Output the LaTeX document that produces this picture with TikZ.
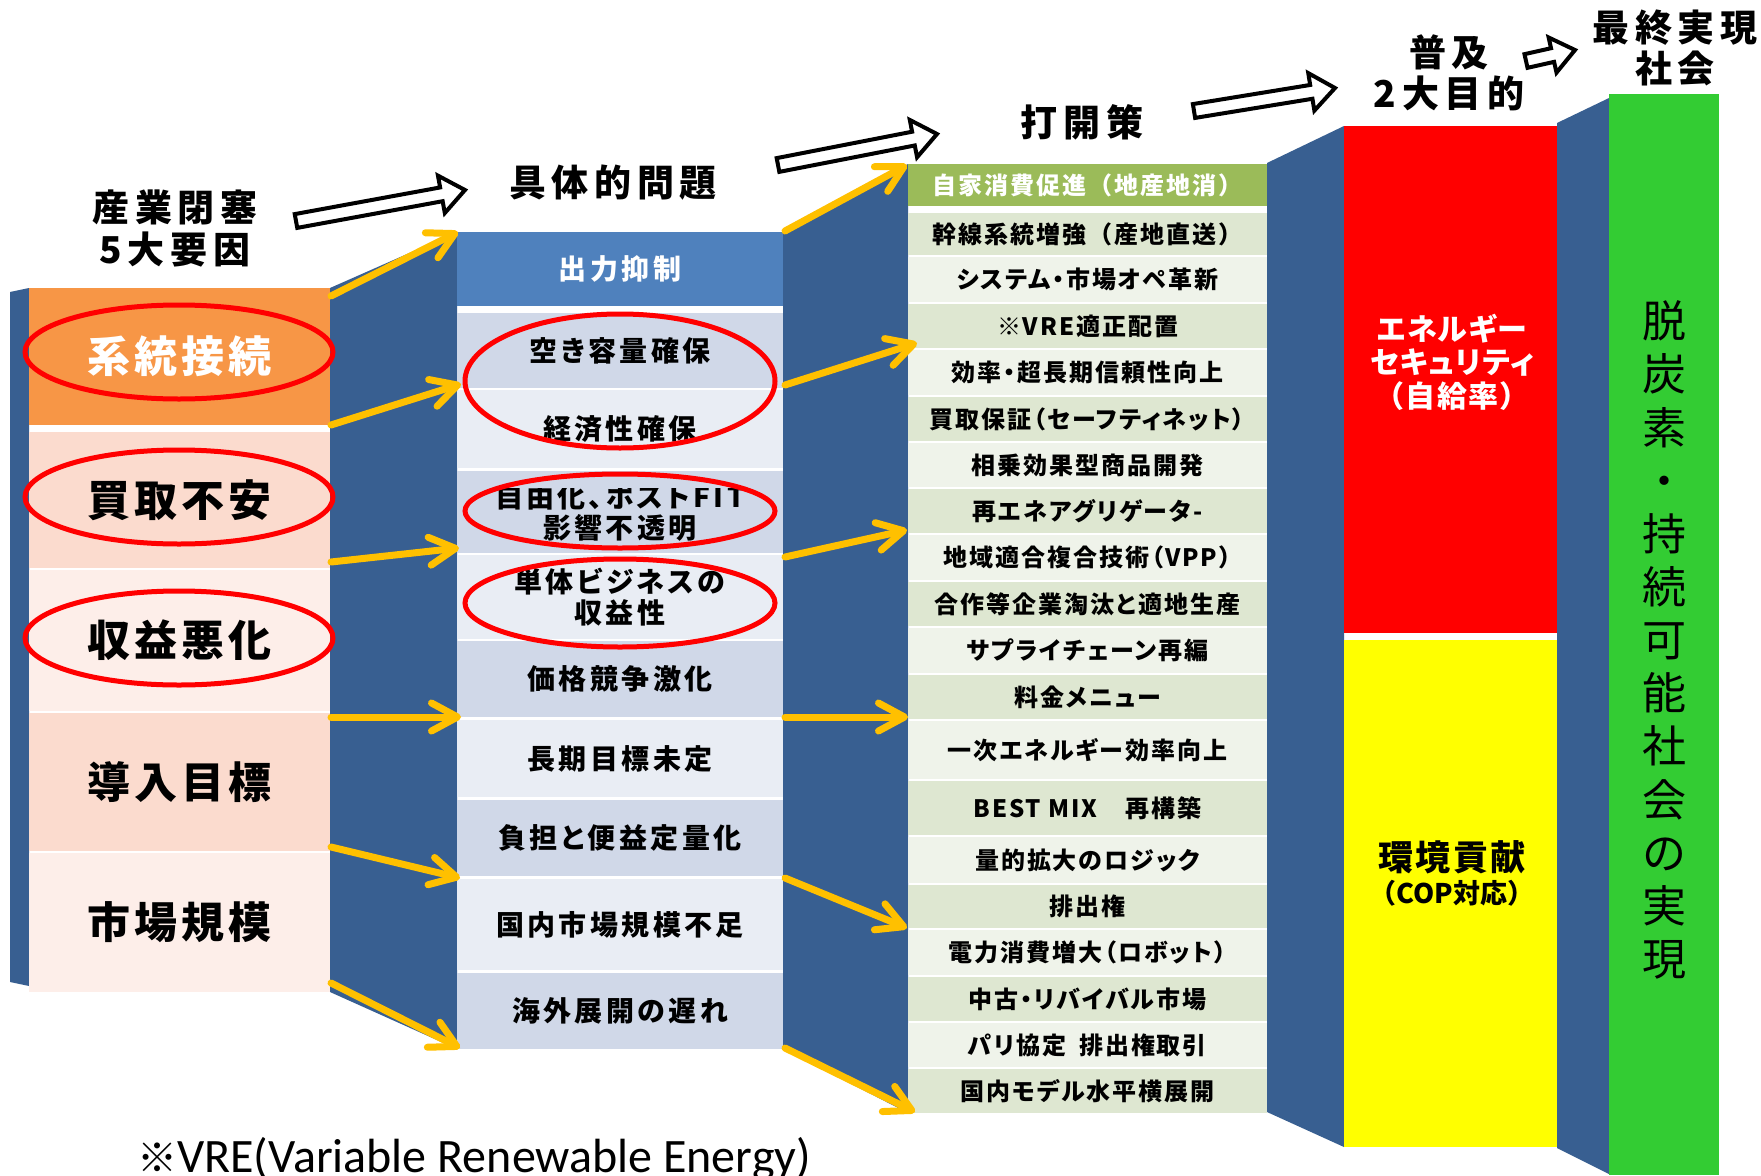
\documentclass[tikz,border=0pt]{standalone}
\usepackage{fontspec}
\setmainfont{Noto Sans CJK JP}[RawFeature=+palt]
\newfontfamily\carl{Carlito}
\usetikzlibrary{arrows.meta,shapes.geometric}
\definecolor{bandc}{HTML}{385F91}
\definecolor{orng}{HTML}{F79646}
\definecolor{salA}{HTML}{FBDBCE}
\definecolor{salB}{HTML}{FDEEE9}
\definecolor{hdrB}{HTML}{4F81BD}
\definecolor{bluA}{HTML}{D0D8E8}
\definecolor{bluB}{HTML}{E9EDF4}
\definecolor{hdrG}{HTML}{9BBB59}
\definecolor{grnA}{HTML}{DEE7D1}
\definecolor{grnB}{HTML}{EFF3EA}
\definecolor{arrY}{HTML}{FFC000}
\definecolor{goalc}{HTML}{33CC33}
\definecolor{goalr}{HTML}{FF0000}
\definecolor{goaly}{HTML}{FFFF00}
\newcommand\fTitle{\fontsize{37pt}{42pt}\selectfont\bfseries\addfontfeature{LetterSpace=15}}
\newcommand\fColA{\fontsize{43pt}{48pt}\selectfont\bfseries\addfontfeature{LetterSpace=10}}
\newcommand\fColB{\fontsize{28pt}{31pt}\selectfont\bfseries\addfontfeature{LetterSpace=12}}
\newcommand\fColC{\fontsize{24pt}{26pt}\selectfont\bfseries\addfontfeature{LetterSpace=8}}
\newcommand\fRed{\fontsize{30pt}{33.5pt}\selectfont\bfseries\addfontfeature{LetterSpace=4}}
\newcommand\fYelA{\fontsize{35pt}{38pt}\selectfont\bfseries\addfontfeature{LetterSpace=6}}
\newcommand\fYelB{\fontsize{27pt}{30pt}\selectfont\bfseries}
\newcommand\fGoal{\fontsize{44pt}{53.15pt}\selectfont\mdseries}
\newcommand\nopalt{\addfontfeature{RawFeature=-palt}}
\tikzset{
 cellbox/.style={rectangle,draw=none,inner sep=0pt,outer sep=0pt,align=center},
 ring/.style={ellipse,draw=red,line width=5pt,fill=none,inner sep=0pt},
 yarr/.style={draw=arrY,line width=7pt,line cap=round,line join=round,-{Straight Barb[length=26pt,width=28pt,round]}},
 hollow/.style={draw=black,fill=white,line width=4pt,line join=miter},
 ttl/.style={font=\fTitle,text=black,inner sep=0pt},
 c1/.style={font=\fColA,text=black},
 c1w/.style={font=\fColA,text=white},
 c2/.style={font=\fColB,text=black,align=center},
 c2w/.style={font=\fColB,text=white},
 c3/.style={font=\fColC,text=black},
 c3w/.style={font=\fColC,text=white},
 plain/.style={},
}
\newcommand\cell[8]{\node[cellbox,fill=#6,#7,minimum width={(#4-#2)*1pt},minimum height={(#5-#3)*1pt}] (#1) at ({(#2+#4)/2},{(#3+#5)/2}) {#8};}
\newcommand\hollowarr[8]{%
\pgfmathsetmacro\hAng{atan2(-(#5-#3),(#4-#2))}%
\pgfmathsetmacro\hLen{veclen((#4-#2),(#5-#3))}%
\pgfmathsetmacro\hBase{\hLen-#8}%
\begin{scope}[shift={(#2,#3)},rotate=\hAng]
\draw[hollow] (0,-#6) -- (\hBase,-#6) -- (\hBase,-#7) -- (\hLen,0) -- (\hBase,#7) -- (\hBase,#6) -- (0,#6) -- cycle;
\coordinate (#1) at (\hLen,0);
\end{scope}}
\begin{document}
\begin{tikzpicture}[x=1pt,y=-1pt]
\fill[white] (0,0) rectangle (1761,1175);
\useasboundingbox (0,0) rectangle (1761,1175);
% connecting bands
\fill[bandc] (10,292) -- (29,288) -- (29,986) -- (10,982) -- cycle;
\fill[bandc] (330,288) -- (457,232) -- (457,1049) -- (330,992) -- cycle;
\fill[bandc] (783,232) -- (908,164) -- (908,1113) -- (783,1049) -- cycle;
\fill[bandc] (1267,163) -- (1344,126) -- (1344,1147) -- (1267,1112) -- cycle;
\fill[bandc] (1557,123) -- (1609,98) -- (1609,1174) -- (1557,1148) -- cycle;
% column 1
\cell{ra}{29}{288}{330}{425}{orng}{c1w}{系統接続}
\cell{rb}{29}{432}{330}{568}{salA}{c1}{買取不安}
\cell{rc}{29}{570}{330}{711}{salB}{c1}{収益悪化}
\cell{rd}{29}{713}{330}{851}{salA}{c1}{導入目標}
\cell{re}{29}{853}{330}{992}{salB}{c1}{市場規模}
% column 2
\cell{m0}{457}{232}{783}{306}{hdrB}{c2w}{出力抑制}
\cell{m1}{457}{313}{783}{388}{bluA}{c2}{空き容量確保}
\cell{m2}{457}{390}{783}{468}{bluB}{c2}{経済性確保}
\cell{m3}{457}{471}{783}{553}{bluA}{c2}{}
\begin{scope}
\clip (457,488) rectangle (783,553);
\node[c2] (m3t) at (620,512) {自由化、ポストFIT\\影響不透明};
\end{scope}
\cell{m4}{457}{555}{783}{639}{bluB}{c2}{単体ビジネスの\\収益性}
\cell{m5}{457}{641}{783}{717}{bluA}{c2}{価格競争激化}
\cell{m6}{457}{720}{783}{797}{bluB}{c2}{長期目標未定}
\cell{m7}{457}{800}{783}{876}{bluA}{c2}{負担と便益定量化}
\cell{m8}{457}{879}{783}{970}{bluB}{c2}{国内市場規模不足}
\cell{m9}{457}{973}{783}{1049}{bluA}{c2}{海外展開の遅れ}
% column 3
\cell{s01}{908}{164}{1267}{206}{hdrG}{c3w}{\nopalt 自家消費促進（地産地消）}
\cell{s02}{908}{213}{1267}{255}{grnA}{c3}{\nopalt 幹線系統増強（産地直送）}
\cell{s03}{908}{257}{1267}{302}{grnB}{c3}{システム・市場オペ革新}
\cell{s04}{908}{304}{1267}{348}{grnA}{c3}{※VRE適正配置}
\cell{s05}{908}{350}{1267}{395}{grnB}{c3}{効率・超長期信頼性向上}
\cell{s06}{908}{397}{1267}{441}{grnA}{c3}{買取保証（セーフティネット）}
\cell{s07}{908}{443}{1267}{487}{grnB}{c3}{相乗効果型商品開発}
\cell{s08}{908}{489}{1267}{533}{grnA}{c3}{再エネアグリゲータ-}
\cell{s09}{908}{535}{1267}{580}{grnB}{c3}{地域適合複合技術（VPP）}
\cell{s10}{908}{582}{1267}{626}{grnA}{c3}{合作等企業淘汰と適地生産}
\cell{s11}{908}{628}{1267}{673}{grnB}{c3}{サプライチェーン再編}
\cell{s12}{908}{675}{1267}{719}{grnA}{c3}{料金メニュー}
\cell{s13}{908}{721}{1267}{779}{grnB}{c3}{一次エネルギー効率向上}
\cell{s14}{908}{781}{1267}{835}{grnA}{c3}{BEST MIX　再構築}
\cell{s15}{908}{837}{1267}{883}{grnB}{c3}{量的拡大のロジック}
\cell{s16}{908}{885}{1267}{928}{grnA}{c3}{排出権}
\cell{s17}{908}{930}{1267}{975}{grnB}{c3}{電力消費増大（ロボット）}
\cell{s18}{908}{977}{1267}{1021}{grnA}{c3}{中古・リバイバル市場}
\cell{s19}{908}{1023}{1267}{1067}{grnB}{c3}{パリ協定\hspace{13pt}排出権取引}
\cell{s20}{908}{1069}{1267}{1113}{grnA}{c3}{国内モデル水平横展開}
% goals
\cell{gr}{1344}{126}{1557}{633}{goalr}{plain}{}
\cell{gy}{1344}{640}{1557}{1147}{goaly}{plain}{}
\cell{gg}{1609}{94}{1719}{1175}{goalc}{plain}{}
\node[font=\fRed,text=white,align=center,inner sep=0pt] (grt) at (1452,362) {エネルギー\\セキュリティ\\{\nopalt （自給率）}};
\node[font=\fYelA,text=black,inner sep=0pt] (gyt1) at (1452,857) {環境貢献};
\node[font=\fYelB,text=black,inner sep=0pt] (gyt2) at (1452,893) {\nopalt （COP対応）};
\node[font=\fGoal,text=black,align=center,inner sep=0pt] (ggt) at (1664,640) {脱\\炭\\素\\・\\持\\続\\可\\能\\社\\会\\の\\実\\現};
% titles
\node[ttl] (t1a) at (175,207) {産業閉塞};
\node[ttl] (t1b) at (175,250) {5大要因};
\node[ttl] (t2) at (613,183) {具体的問題};
\node[ttl] (t3) at (1082,122) {打開策};
\node[ttl] (t4a) at (1449,52) {普及};
\node[ttl] (t4b) at (1449,93) {2大目的};
\node[ttl] (t5a) at (1675,28) {最終実現};
\node[ttl] (t5b) at (1675,68) {社会};
% footnote
\node[anchor=base west,inner sep=0pt,text=black] (fn) at (137,1172) {{\fontsize{40pt}{48pt}\selectfont ※}{\carl\fontsize{48pt}{58pt}\selectfont VRE(Variable Renewable Energy)}};
% ellipses
\node[ring,minimum width=308pt,minimum height=94pt] (e1) at (179,352) {};
\node[ring,minimum width=308pt,minimum height=94pt] (e2) at (179,497) {};
\node[ring,minimum width=308pt,minimum height=94pt] (e3) at (179,638) {};
\node[ring,minimum width=310pt,minimum height=134pt] (e4) at (620,381) {};
\node[ring,minimum width=310pt,minimum height=74pt] (e5) at (620,511) {};
\node[ring,minimum width=310pt,minimum height=88pt] (e6) at (620,603) {};
% yellow connectors
\coordinate (p1s) at (331,296); \coordinate (p1e) at (458,232);
\coordinate (p2s) at (331,425); \coordinate (p2e) at (461,384);
\coordinate (p3s) at (331,562); \coordinate (p3e) at (459,548);
\coordinate (p4s) at (331,717); \coordinate (p4e) at (461,717);
\coordinate (p5s) at (331,847); \coordinate (p5e) at (460,878);
\coordinate (p6s) at (331,983); \coordinate (p6e) at (460,1048);
\coordinate (q1s) at (785,231); \coordinate (q1e) at (907,165);
\coordinate (q2s) at (785,385); \coordinate (q2e) at (917,343);
\coordinate (q3s) at (785,557); \coordinate (q3e) at (907,530);
\coordinate (q4s) at (785,717); \coordinate (q4e) at (908,717);
\coordinate (q5s) at (785,878); \coordinate (q5e) at (907,928);
\coordinate (q6s) at (785,1048); \coordinate (q6e) at (915,1112);
\foreach \a in {p1,p2,p3,p4,p5,p6,q1,q2,q3,q4,q5,q6}{\draw[yarr] (\a s) -- (\a e);}
% hollow arrows
\hollowarr{h1}{296}{221}{465}{190}{7}{19}{24}
\hollowarr{h2}{778}{165}{937}{134}{7}{19}{24}
\hollowarr{h3}{1194}{111}{1335}{88}{7}{19}{24}
\hollowarr{h4}{1526}{61}{1575}{50}{7}{18}{23}
\end{tikzpicture}
\end{document}
